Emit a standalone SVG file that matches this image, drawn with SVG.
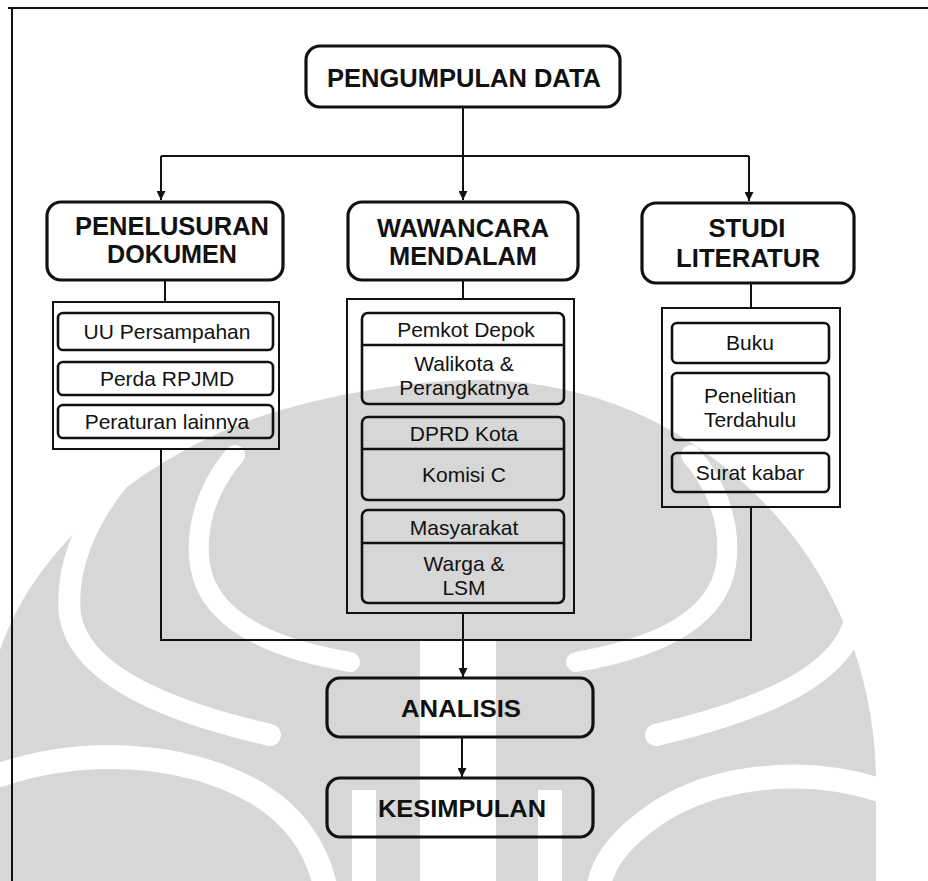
<svg xmlns="http://www.w3.org/2000/svg" width="928" height="881" viewBox="0 0 928 881">
<defs>
<marker id="arr" viewBox="0 0 10 10" refX="10" refY="5" markerWidth="10" markerHeight="9" markerUnits="userSpaceOnUse" orient="auto"><path d="M0,0 L10,5 L0,10 z" fill="#111"/></marker>
<style>
.wg{fill:none;stroke:#fff;stroke-linecap:round}
.frame{stroke:#111;stroke-width:2;fill:none}
.hb{fill:none;stroke:#111;stroke-width:3.2}
.ct{fill:none;stroke:#111;stroke-width:2}
.ib{fill:none;stroke:#111;stroke-width:2.6}
.cn{fill:none;stroke:#111;stroke-width:2}
.ht{font-family:"Liberation Sans",Arial,sans-serif;font-weight:bold;fill:#111;text-anchor:middle}
.st{font-family:"Liberation Sans",Arial,sans-serif;font-size:21px;fill:#111;text-anchor:middle}
</style>
</defs>
<rect width="928" height="881" fill="#fff"/>
<g id="watermark">
<path fill="#d7d7d7" d="M0 650 C30 560 120 470 250 420 C330 392 420 380 480 380 C600 382 700 430 780 520 C840 590 875 680 876 780 L876 881 L0 881 Z"/>
<path class="wg" stroke-width="22" d="M120 478 C85 520 65 570 70 615 C78 665 140 705 270 735"/>
<path class="wg" stroke-width="20" d="M235 455 C205 490 195 530 200 565 C207 610 250 645 350 662"/>
<path class="wg" stroke-width="22" d="M806 478 C841 520 861 570 856 615 C848 665 786 705 656 735"/>
<path class="wg" stroke-width="20" d="M691 455 C721 490 731 530 726 565 C719 610 676 645 576 662"/>
<path class="wg" stroke-width="24" d="M0 775 C80 748 180 750 255 792 C295 815 318 850 326 890"/>
<path class="wg" stroke-width="24" d="M880 790 C800 765 705 775 645 822 C615 845 602 865 598 890"/>
<rect x="420" y="640" width="76" height="241" fill="#fff"/>
<rect x="352" y="790" width="24" height="91" fill="#fff"/>
<rect x="538" y="790" width="24" height="91" fill="#fff"/>
</g>
<g id="frame">
<path class="frame" d="M8 8 H928 M12 8 V881"/>
</g>
<g id="connectors">
<path class="cn" d="M463 107 V156 M161 156 H749"/>
<path class="cn" d="M161 156 V200" marker-end="url(#arr)"/>
<path class="cn" d="M463 156 V200" marker-end="url(#arr)"/>
<path class="cn" d="M749 156 V201" marker-end="url(#arr)"/>
<path class="cn" d="M165 280 V302 M463 280 V299 M751 283 V308"/>
<path class="cn" d="M161 449 V640 H751 V507"/>
<path class="cn" d="M463 613 V677" marker-end="url(#arr)"/>
<path class="cn" d="M462 737 V777" marker-end="url(#arr)"/>
</g>
<g id="pengumpulan-data">
<rect class="hb" x="306" y="46" width="314" height="61" rx="14"/>
<text class="ht" x="464" y="87" font-size="25" textLength="274" lengthAdjust="spacingAndGlyphs">PENGUMPULAN DATA</text>
</g>
<g id="penelusuran-dokumen">
<rect class="hb" x="47" y="202" width="236" height="78" rx="14"/>
<text class="ht" x="172" y="235" font-size="26" textLength="194" lengthAdjust="spacingAndGlyphs">PENELUSURAN</text>
<text class="ht" x="172" y="263" font-size="26" textLength="130" lengthAdjust="spacingAndGlyphs">DOKUMEN</text>
</g>
<g id="wawancara-mendalam">
<rect class="hb" x="348" y="202" width="230" height="78" rx="14"/>
<text class="ht" x="463" y="237" font-size="26" textLength="172" lengthAdjust="spacingAndGlyphs">WAWANCARA</text>
<text class="ht" x="463" y="265" font-size="26" textLength="148" lengthAdjust="spacingAndGlyphs">MENDALAM</text>
</g>
<g id="studi-literatur">
<rect class="hb" x="642" y="203" width="212" height="80" rx="14"/>
<text class="ht" x="747" y="237" font-size="26" textLength="77" lengthAdjust="spacingAndGlyphs">STUDI</text>
<text class="ht" x="748" y="267" font-size="26" textLength="144" lengthAdjust="spacingAndGlyphs">LITERATUR</text>
</g>
<g id="dokumen-list">
<rect class="ct" x="53" y="302" width="226" height="147"/>
<rect class="ib" x="58" y="313" width="215" height="37" rx="5"/>
<text class="st" x="167" y="339">UU Persampahan</text>
<rect class="ib" x="58" y="362" width="215" height="33" rx="5"/>
<text class="st" x="167" y="386">Perda RPJMD</text>
<rect class="ib" x="58" y="405" width="215" height="33" rx="5"/>
<text class="st" x="167" y="429">Peraturan lainnya</text>
</g>
<g id="wawancara-list">
<rect class="ct" x="347" y="299" width="227" height="314"/>
<rect class="ib" x="362" y="313" width="202" height="91" rx="6"/>
<path class="ib" d="M362 345 H564"/>
<text class="st" x="466" y="337">Pemkot Depok</text>
<text class="st" x="464" y="371">Walikota &amp;</text>
<text class="st" x="464" y="395">Perangkatnya</text>
<rect class="ib" x="362" y="417" width="202" height="83" rx="6"/>
<path class="ib" d="M362 449 H564"/>
<text class="st" x="464" y="441">DPRD Kota</text>
<text class="st" x="464" y="482">Komisi C</text>
<rect class="ib" x="362" y="510" width="202" height="93" rx="6"/>
<path class="ib" d="M362 543 H564"/>
<text class="st" x="464" y="535">Masyarakat</text>
<text class="st" x="464" y="571">Warga &amp;</text>
<text class="st" x="464" y="595">LSM</text>
</g>
<g id="literatur-list">
<rect class="ct" x="662" y="308" width="178" height="199"/>
<rect class="ib" x="672" y="323" width="157" height="40" rx="5"/>
<text class="st" x="750" y="350">Buku</text>
<rect class="ib" x="672" y="373" width="157" height="67" rx="5"/>
<text class="st" x="750" y="403">Penelitian</text>
<text class="st" x="750" y="427">Terdahulu</text>
<rect class="ib" x="672" y="453" width="157" height="39" rx="5"/>
<text class="st" x="750" y="480">Surat kabar</text>
</g>
<g id="analisis">
<rect class="hb" x="327" y="678" width="266" height="59" rx="13"/>
<text class="ht" x="461" y="717" font-size="24" textLength="120" lengthAdjust="spacingAndGlyphs">ANALISIS</text>
</g>
<g id="kesimpulan">
<rect class="hb" x="327" y="778" width="266" height="59" rx="13"/>
<text class="ht" x="462" y="817" font-size="24" textLength="168" lengthAdjust="spacingAndGlyphs">KESIMPULAN</text>
</g>
</svg>
